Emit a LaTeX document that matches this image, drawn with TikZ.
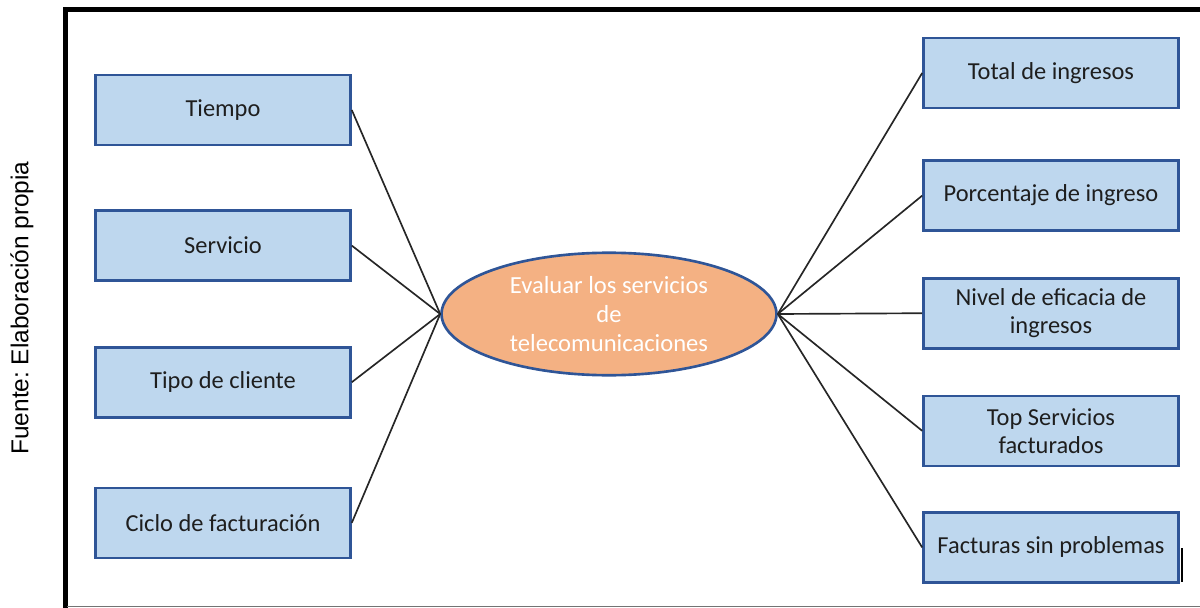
\documentclass[tikz,border=0pt]{standalone}
\usepackage{fontspec}
\setmainfont{Carlito}
\newfontfamily\arialfont{Liberation Sans}
\usepackage{tikz}
\usetikzlibrary{positioning, shapes.geometric}
\definecolor{BoxFill}{RGB}{190,215,238}
\definecolor{BoxLine}{RGB}{47,85,151}
\definecolor{GoalFill}{RGB}{244,177,131}
\definecolor{TextGray}{RGB}{30,30,30}
\frenchspacing

\begin{document}
\begin{tikzpicture}[x=0.02cm, y=-0.02cm]
      \tikzset{ var/.style  ={draw=BoxLine, line width=1.5pt, fill=BoxFill, text=TextGray, minimum width=5.1cm, minimum height=1.4cm, align=center, font=\fontsize{13.9}{16}\selectfont} }
      \tikzset{ goal/.style ={draw=BoxLine, line width=1.5pt, fill=GoalFill, ellipse, text=white, minimum width=6.7cm, minimum height=2.45cm, inner sep=0pt, align=center, font=\fontsize{14}{16.4}\selectfont} }
      \tikzset{ lnk/.style  ={draw=black!85, line width=0.95pt} }
      \useasboundingbox (0,0) rectangle (1200,608);

      % marco
      \draw[line width=2.8pt] (65.5,608) -- (65.5,9.5) -- (1200,9.5);
      \draw[black!55, line width=1.1pt] (67,606.5) -- (1200,606.5);
      \draw[line width=1pt] (1182,548) -- (1182,582);

      \node[rotate=90, font=\arialfont\fontsize{13.9}{16}\selectfont] (src) at (22,308) {Fuente: Elaboración propia};

      \node[goal] (c) at (609,314) {Evaluar los servicios\\de\\telecomunicaciones};

      % variables (izquierda)
      \node[var                    ] (v1) at (223,110) {Tiempo};
      \node[var, below=1.26cm of v1] (v2)              {Servicio};
      \node[var, below=1.28cm of v2] (v3)              {Tipo de cliente};
      \node[var, below=1.36cm of v3] (v4)              {Ciclo de facturación};

      % indicadores (derecha)
      \node[var                    ] (i1) at (1051,73) {Total de ingresos};
      \node[var, below=1.00cm of i1] (i2)              {Porcentaje de ingreso};
      \node[var, below=0.90cm of i2] (i3)              {Nivel de eficacia de\\ingresos};
      \node[var, below=0.90cm of i3] (i4)              {Top Servicios\\facturados};
      \node[var, below=0.88cm of i4] (i5)              {Facturas sin problemas};

      \foreach \n in {v1,v2,v3,v4}
        \draw[lnk] (c.west) -- (\n.east);
      \foreach \n in {i1,i2,i3,i4,i5}
        \draw[lnk] (c.east) -- (\n.west);
    \end{tikzpicture}
\end{document}
